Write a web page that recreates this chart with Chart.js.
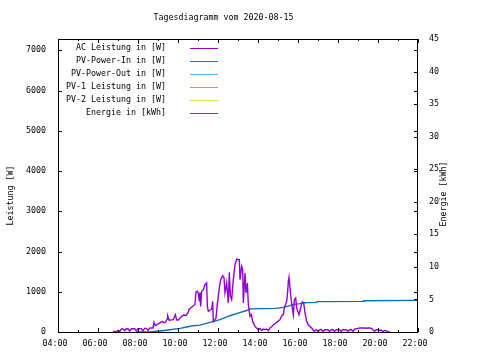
<!DOCTYPE html>
<html>
<head>
<meta charset="utf-8">
<script src="https://cdn.jsdelivr.net/npm/chart.js@4/dist/chart.umd.min.js"></script>
<style>
html,body{margin:0;padding:0;background:#fff;}
canvas{display:block;}
</style>
</head>
<body>
<canvas id="c" width="480" height="360"></canvas>
<script>
// ---- data ----
const chartTitle = "Tagesdiagramm vom 2020-08-15";
const leftAxisTitle = "Leistung [W]";
const rightAxisTitle = "Energie [kWh]";
const seriesLabels = ["AC Leistung in [W]","PV-Power-In in [W]","PV-Power-Out in [W]","PV-1 Leistung in [W]","PV-2 Leistung in [W]","Energie in [kWh]"];
const seriesColors = ["#9400d3","#009e73","#56b4e9","#e69f00","#f0e442","#0072b2"];

const acTimes = ["06:45","06:50","06:55","07:00","07:05","07:10","07:15","07:20","07:25","07:30","07:35","07:40","07:45","07:50","07:55","08:00","08:05","08:10","08:15","08:20","08:25","08:30","08:35","08:40","08:45","08:48","08:52","08:58","09:02","09:08","09:12","09:18","09:22","09:27","09:29","09:34","09:40","09:46","09:52","09:56","10:00","10:06","10:11","10:18","10:24","10:30","10:34","10:38","10:44","10:51","10:54","10:58","11:01","11:04","11:06","11:08","11:11","11:16","11:21","11:26","11:28","11:31","11:36","11:41","11:44","11:46","11:50","11:54","11:58","12:04","12:08","12:14","12:18","12:21","12:26","12:31","12:34","12:37","12:41","12:46","12:51","12:56","13:02","13:04","13:06","13:11","13:14","13:16","13:21","13:24","13:28","13:31","13:36","13:40","13:44","13:51","13:58","14:01","14:06","14:11","14:16","14:21","14:26","14:31","14:36","14:41","14:46","14:51","14:56","15:01","15:06","15:11","15:16","15:19","15:26","15:29","15:31","15:33","15:36","15:39","15:43","15:46","15:49","15:53","15:56","16:03","16:09","16:13","16:17","16:21","16:26","16:31","16:41","16:49","16:55","17:00","17:05","17:10","17:15","17:20","17:25","17:30","17:35","17:40","17:45","17:50","17:55","18:00","18:05","18:10","18:15","18:20","18:25","18:30","18:35","18:40","18:45","18:50","18:55","19:00","19:05","19:10","19:15","19:20","19:25","19:30","19:35","19:40","19:45","19:50","19:55","20:00","20:05","20:10","20:15","20:20","20:25","20:30","20:36"];
const acValues = [0,20,0,40,10,75,75,30,80,80,20,80,80,80,25,85,85,85,30,90,90,40,95,100,100,240,157,190,206,240,263,230,240,320,405,290,300,306,430,300,290,340,388,423,413,480,572,597,640,678,1000,1010,970,760,980,637,1010,1052,1176,1218,637,512,540,572,760,263,300,348,700,1094,1300,1400,1350,970,1218,721,1482,900,803,1300,1673,1815,1790,1797,1300,1631,1550,721,1467,970,1218,679,388,430,263,139,80,57,90,40,75,60,75,32,100,130,181,199,240,270,306,405,430,597,760,1010,1258,1357,1094,845,597,430,803,845,597,430,637,746,721,472,263,181,100,15,57,20,57,60,15,57,57,57,10,60,57,20,57,57,57,15,60,57,57,20,57,60,15,70,80,90,100,100,100,100,95,100,100,90,57,20,57,57,40,50,10,40,30,10,0];

const energyTimes = ["07:55","08:40","09:06","09:36","10:06","10:26","10:46","11:06","11:36","12:06","12:36","13:00","13:26","13:36","14:51","15:16","15:46","16:06","16:16","16:55","16:57","19:15","19:17","22:00"];
const energyValues = [0,0.05,0.15,0.35,0.55,0.77,0.97,1.05,1.48,1.9,2.5,2.9,3.3,3.55,3.63,3.78,4.2,4.35,4.5,4.55,4.66,4.7,4.8,4.85];

const xTickHours = [4,6,8,10,12,14,16,18,20,22];
const yTickValues = [0,1000,2000,3000,4000,5000,6000,7000];
const y2TickValues = [0,5,10,15,20,25,30,35,40,45];

// ---- helpers ----
const toH = s => { const p = s.split(":"); return +p[0] + (+p[1])/60; };
const pad2 = n => (n<10?"0":"")+n;
const FONT = {family:"'DejaVu Sans Mono', monospace", size:8.3};
const FONTSTR = "8.3px 'DejaVu Sans Mono', monospace";

const acData = acTimes.map((t,i)=>({x:toH(t), y:acValues[i]}));
const enData = energyTimes.map((t,i)=>({x:toH(t), y:energyValues[i]}));

const datasets = [
  {label:seriesLabels[0], data:acData, yAxisID:'y'},
  {label:seriesLabels[1], data:[], yAxisID:'y'},
  {label:seriesLabels[2], data:[], yAxisID:'y'},
  {label:seriesLabels[3], data:[], yAxisID:'y'},
  {label:seriesLabels[4], data:[], yAxisID:'y'},
  {label:seriesLabels[5], data:enData, yAxisID:'y2'}
].map((d,i)=>Object.assign(d,{borderColor:seriesColors[i], backgroundColor:seriesColors[i], borderWidth:1.4, pointRadius:0, tension:0, fill:false}));

const decor = {
  id:'decor',
  afterDraw(chart){
    const c = chart.ctx, a = chart.chartArea;
    const sx = chart.scales.x, sy = chart.scales.y, sy2 = chart.scales.y2;
    c.save();
    c.strokeStyle = '#000'; c.lineWidth = 1;
    c.strokeRect(Math.round(a.left)+0.5, Math.round(a.top)+0.5, Math.round(a.right-a.left)-1, Math.round(a.bottom-a.top));
    c.beginPath();
    for(let h=4; h<=22; h++){
      const px = Math.round(sx.getPixelForValue(h))+0.5;
      const len = (h%2===0)?4:2;
      c.moveTo(px, a.bottom); c.lineTo(px, a.bottom-len);
      c.moveTo(px, a.top); c.lineTo(px, a.top+len);
    }
    yTickValues.forEach(v=>{
      const py = Math.round(sy.getPixelForValue(v))+0.5;
      c.moveTo(a.left, py); c.lineTo(a.left+4, py);
      c.moveTo(a.right, py); c.lineTo(a.right-4, py);
    });
    y2TickValues.forEach(v=>{
      const py = Math.round(sy2.getPixelForValue(v))+0.5;
      c.moveTo(a.right, py); c.lineTo(a.right-4, py);
    });
    c.stroke();
    c.fillStyle = '#000'; c.font = FONTSTR;
    c.textAlign = 'center'; c.textBaseline = 'middle';
    c.fillText(chartTitle, 223.5, 18);
    c.save(); c.translate(11, 195.5); c.rotate(-Math.PI/2); c.fillText(leftAxisTitle, 0, 0); c.restore();
    c.save(); c.translate(444, 194); c.rotate(-Math.PI/2); c.fillText(rightAxisTitle, 0, 0); c.restore();
    c.textAlign = 'right';
    chart.data.datasets.forEach((d,i)=>{
      const y = 48.3 + i*13;
      c.fillStyle = '#000';
      c.fillText(d.label, 166, y);
      c.strokeStyle = d.borderColor; c.lineWidth = 1;
      c.beginPath(); c.moveTo(190, Math.round(y)+0.5); c.lineTo(218, Math.round(y)+0.5); c.stroke();
    });
    c.restore();
  }
};

new Chart(document.getElementById('c'), {
  type:'line',
  data:{datasets},
  plugins:[decor],
  options:{
    responsive:false, animation:false, devicePixelRatio:1,
    layout:{padding:{top:39,left:0,right:0,bottom:0}},
    plugins:{legend:{display:false}, tooltip:{enabled:false}, title:{display:false}},
    scales:{
      x:{type:'linear', min:4, max:22, position:'bottom',
         afterBuildTicks: s => { s.ticks = xTickHours.map(v=>({value:v})); },
         ticks:{callback:v=>pad2(v)+":00", font:FONT, color:'#000', padding:7, labelOffset:-3, maxRotation:0, autoSkip:false},
         grid:{display:false, drawTicks:false}, border:{display:false},
         afterFit: s => { s.height = 28; }},
      y:{type:'linear', min:0, max:7280, position:'left',
         afterBuildTicks: s => { s.ticks = yTickValues.map(v=>({value:v})); },
         ticks:{callback:v=>String(v), font:FONT, color:'#000', padding:12, autoSkip:false},
         grid:{display:false, drawTicks:false}, border:{display:false},
         afterFit: s => { s.width = 58; }},
      y2:{type:'linear', min:0, max:45, position:'right',
         afterBuildTicks: s => { s.ticks = y2TickValues.map(v=>({value:v})); },
         ticks:{callback:v=>String(v), font:FONT, color:'#000', padding:11, autoSkip:false},
         grid:{display:false, drawTicks:false}, border:{display:false},
         afterFit: s => { s.width = 62; }}
    }
  }
});
</script>
</body>
</html>
